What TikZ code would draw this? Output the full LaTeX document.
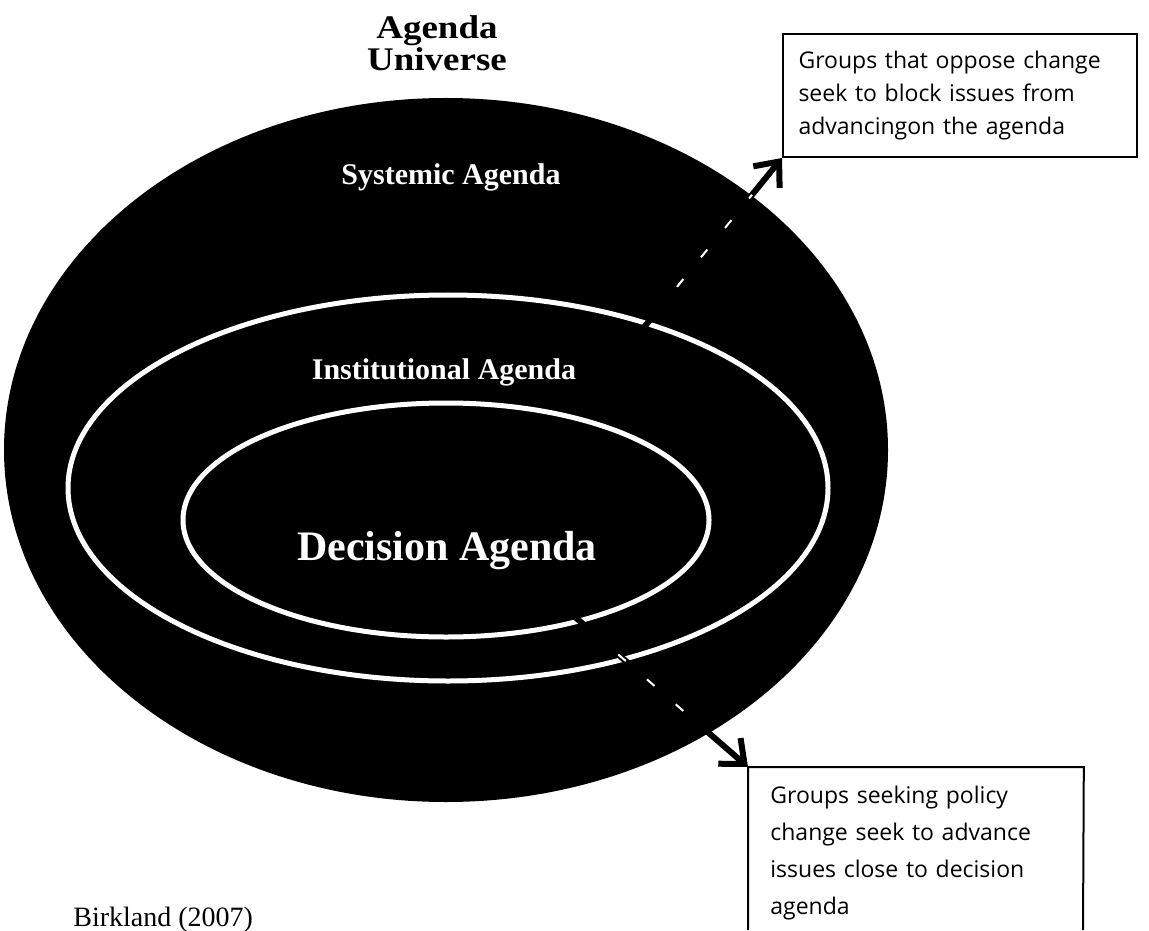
\documentclass[tikz,border=0pt]{standalone}
\usepackage{fontspec}
\setmainfont{Liberation Serif}
\newfontfamily\boxfont{Open Sans}
\newfontfamily\titlefont[FakeStretch=1.12]{Liberation Serif}
\usetikzlibrary{arrows.meta,calc}
\tikzset{
  ring/.style={draw=white, line width=2.5pt},
  layerlabel/.style={text=white, font=\bfseries\fontsize{15pt}{17pt}\selectfont, inner sep=0pt, anchor=base},
  callout/.style={draw=black, line width=1pt},
  calloutarrow/.style={line width=3pt, line cap=round, -{Straight Barb[length=10pt,width=17pt]}},
  hintdash/.style={draw=white, line width=1pt, dash pattern=on 5pt off 14pt},
  boxtext/.style={font=\boxfont\fontsize{11.5pt}{16.5pt}\selectfont, align=left}
}
\begin{document}
\begin{tikzpicture}[x=0.5pt,y=-0.5pt]
\useasboundingbox (0,0) rectangle (1149,930);

% nested agenda ellipses
\fill[black] (446,450) ellipse [x radius=221pt, y radius=176pt];
\draw[ring] (448,488) ellipse [x radius=190pt, y radius=96.5pt];
\draw[ring] (446,520) ellipse [x radius=131.5pt, y radius=58.5pt];

% title
\node[font=\titlefont\bfseries\fontsize{16.5pt}{13.5pt}\selectfont, align=center, inner sep=0pt] (title) at (437,43) {Agenda\\Universe};

% layer labels
\node[layerlabel] (systemic) at (451,185) {Systemic Agenda};
\node[layerlabel] (institutional) at (444,379) {Institutional Agenda};
\node[layerlabel, font=\bfseries\fontsize{21pt}{24pt}\selectfont] (decision) at (447,560) {Decision Agenda};

% callout boxes
\node[callout, boxtext, text width=161.5pt, minimum width=177pt, minimum height=61.5pt, inner xsep=6pt, inner ysep=4pt] (box1) at (960,95.5)
  {\makebox[\linewidth][s]{Groups that oppose change}\\
   \makebox[\linewidth][s]{seek to block issues from}\\
   advancingon the agenda};

\node[boxtext, font=\boxfont\fontsize{11.5pt}{18.5pt}\selectfont, text width=145.5pt, minimum width=167.5pt, inner xsep=11pt, inner ysep=9.5pt, anchor=north west] (box2) at (748,767)
  {Groups seeking policy\\
   change seek to advance\\
   issues close to decision\\
   agenda};
\coordinate (b2bl) at (748,930);
\coordinate (b2br) at (1083,930);
\draw[callout] (b2bl) -- (box2.north west) -- (box2.north east) -- (b2br);

% arrows from the agenda rings to the boxes
\coordinate (s1) at (632,342);
\coordinate (s2) at (575,617);
\draw[calloutarrow] (s1) -- (box1.south west);
\draw[calloutarrow] (s2) -- (box2.north west);
\draw[hintdash] ($(s1)!0.3!(box1.south west)$) -- ($(s1)!0.8!(box1.south west)$);
\draw[hintdash] ($(s2)!0.25!(box2.north west)$) -- ($(s2)!0.72!(box2.north west)$);

% source
\node[font=\fontsize{14pt}{16pt}\selectfont, anchor=base west, inner sep=0pt] (source) at (73,926) {Birkland (2007)};
\end{tikzpicture}
\end{document}
